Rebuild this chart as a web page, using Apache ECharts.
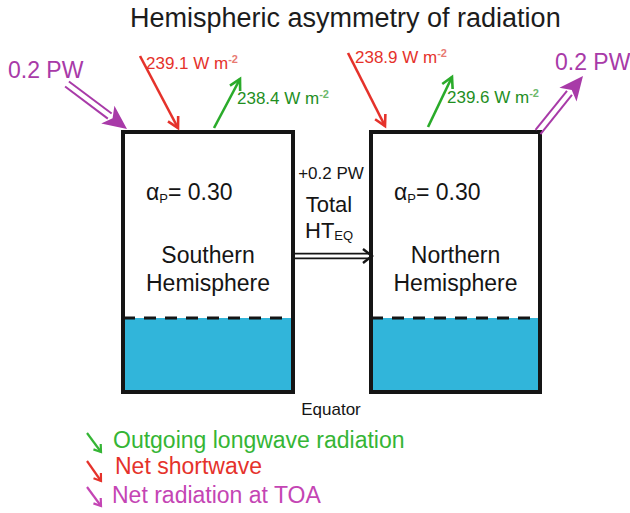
<!DOCTYPE html>
<html><head><meta charset="utf-8">
<script src="https://cdn.jsdelivr.net/npm/echarts@6/dist/echarts.min.js"></script>
<style>html,body{margin:0;padding:0;background:#fff}#c{width:630px;height:513px}</style>
</head><body><div id="c"></div><script>
// ---- values ----
const titleText = 'Hemispheric asymmetry of radiation';
const hemispheres = ['Southern\nHemisphere', 'Northern\nHemisphere'];
const albedo = [0.30, 0.30];
const netShortwave = [239.1, 238.9];      // W m-2
const outgoingLongwave = [238.4, 239.6];  // W m-2
const netToaPW = [0.2, 0.2];              // PW (into SH, out of NH)
const heatTransportPW = [0.2];            // PW across equator
const equatorLabel = ['Equator'];
const legendLabels = ['Outgoing longwave radiation', 'Net shortwave', 'Net radiation at TOA'];

// ---- layout (diagram space, same units as hidden axes) ----
const L = {
  boxX0: [123, 371], boxX1: [293, 540], boxTop: 132, boxBottom: 392, waterTop: 318,
  swFrom: [[140, 56], [348, 53]], swTo: [[178, 128], [385, 126]], swLab: [[146, 63], [355, 57]],
  lwFrom: [[214, 128], [428, 127]], lwTo: [[240, 79], [452, 77]], lwLab: [[237, 98], [447, 97]],
  toaFrom: [[67, 84], [538, 132]], toaTo: [[127, 129], [583, 76]], toaLab: [[8, 70], [555, 62]],
  htFrom: [294, 256], htTo: [372, 256], htLab: [[331, 173], [329, 204], [305, 230]],
  eqLab: [331, 409],
  legFrom: [[87, 433], [87, 461], [87, 487]], legTo: [[101, 452], [101, 481], [101, 506]],
  legLab: [[113, 440], [115, 466], [112, 495]],
  title: [130, 18]
};
const FONT = '"Liberation Sans", Arial, Helvetica, sans-serif';
const COL = {
  red: '#e5322b', redSup: '#e87a72', green: '#2aab2a', greenText: '#1f8f1f', greenSup: '#6cb86c',
  mag: '#a83aa8', magLeg: '#c445b4', greenLeg: '#35b535', water: '#31b5da', ink: '#151515'
};

function txt(p, text, opt) {
  return { type: 'text', x: p[0], y: p[1], silent: true,
    style: Object.assign({ text: text, fontFamily: FONT, fill: COL.ink, align: 'left', verticalAlign: 'middle' }, opt) };
}
function chevronArrow(p1, p2, color, lw, headLen, ang) {
  const a = Math.atan2(p2[1] - p1[1], p2[0] - p1[0]);
  const h1 = [p2[0] - headLen * Math.cos(a - ang), p2[1] - headLen * Math.sin(a - ang)];
  const h2 = [p2[0] - headLen * Math.cos(a + ang), p2[1] - headLen * Math.sin(a + ang)];
  return [
    { type: 'line', shape: { x1: p1[0], y1: p1[1], x2: p2[0], y2: p2[1] }, style: { stroke: color, lineWidth: lw, lineCap: 'butt' } },
    { type: 'polyline', shape: { points: [h1, p2, h2] }, style: { stroke: color, lineWidth: lw, fill: 'none', lineJoin: 'miter' } }
  ];
}
function doubleArrow(p1, p2, color, lw, gap, headLen, headHalf, filled) {
  const a = Math.atan2(p2[1] - p1[1], p2[0] - p1[0]);
  const ux = Math.cos(a), uy = Math.sin(a), nx = -uy, ny = ux;
  const endLen = Math.hypot(p2[0] - p1[0], p2[1] - p1[1]) - (filled ? headLen * 0.9 : lw * 0.6);
  const e = [p1[0] + ux * endLen, p1[1] + uy * endLen];
  const out = [];
  [-1, 1].forEach(s => {
    out.push({ type: 'line', shape: { x1: p1[0] + nx * gap * s, y1: p1[1] + ny * gap * s, x2: e[0] + nx * gap * s, y2: e[1] + ny * gap * s },
      style: { stroke: color, lineWidth: lw } });
  });
  const b = [p2[0] - ux * headLen, p2[1] - uy * headLen];
  const h1 = [b[0] + nx * headHalf, b[1] + ny * headHalf], h2 = [b[0] - nx * headHalf, b[1] - ny * headHalf];
  if (filled) {
    const notch = [p2[0] - ux * headLen * 0.75, p2[1] - uy * headLen * 0.75];
    out.push({ type: 'polygon', shape: { points: [h1, p2, h2, notch] }, style: { fill: color } });
  } else {
    out.push({ type: 'polyline', shape: { points: [h1, p2, h2] }, style: { stroke: color, lineWidth: lw + 0.8, fill: 'none' } });
  }
  return out;
}
const supRich = (fs, c1, c2) => ({
  a: { fontSize: fs, fill: c1, fontFamily: FONT, lineHeight: fs + 2 },
  s: { fontSize: Math.round(fs * 0.62), fill: c2, fontFamily: FONT, verticalAlign: 'top', lineHeight: Math.round(fs * 0.62), fontWeight: 'bold' }
});

const chart = echarts.init(document.getElementById('c'), null, { renderer: 'svg' });
const base = { type: 'custom', coordinateSystem: 'cartesian2d', clip: false, silent: true };

chart.setOption({
  animation: false,
  backgroundColor: '#ffffff',
  grid: { left: 0, right: 0, top: 0, bottom: 0 },
  xAxis: { type: 'value', min: 0, max: 630, show: false },
  yAxis: { type: 'value', min: 0, max: 513, inverse: true, show: false },
  series: [
    Object.assign({}, base, { name: 'title', data: [[0, 0]],
      renderItem: (p, api) => txt(api.coord(L.title), titleText, { fontSize: 27, fill: '#1c1c1c' }) }),
    Object.assign({}, base, { name: 'hemispheres', data: hemispheres.map((h, i) => [i, albedo[i]]),
      renderItem: (p, api) => {
        const i = p.dataIndex;
        const tl = api.coord([L.boxX0[i], L.boxTop]), br = api.coord([L.boxX1[i], L.boxBottom]);
        const wt = api.coord([L.boxX0[i], L.waterTop]);
        const cx = (tl[0] + br[0]) / 2;
        return { type: 'group', children: [
          { type: 'rect', shape: { x: tl[0], y: wt[1], width: br[0] - tl[0], height: br[1] - wt[1] }, style: { fill: COL.water } },
          { type: 'line', shape: { x1: tl[0], y1: wt[1], x2: br[0], y2: wt[1] }, style: { stroke: COL.ink, lineWidth: 3, lineDash: [12, 9] } },
          { type: 'rect', shape: { x: tl[0], y: tl[1], width: br[0] - tl[0], height: br[1] - tl[1] }, style: { fill: 'none', stroke: COL.ink, lineWidth: 4 } },
          txt(api.coord([L.boxX0[i] + 23, 192]), '{a|α}{s|P}{a|= ' + albedo[i].toFixed(2) + '}', {
            rich: { a: { fontSize: 23, fill: COL.ink, fontFamily: FONT, lineHeight: 25 },
                    s: { fontSize: 13, fill: COL.ink, fontFamily: FONT, verticalAlign: 'bottom', lineHeight: 13 } } }),
          txt([cx, api.coord([0, 269])[1]], hemispheres[i], { fontSize: 23, align: 'center', lineHeight: 28 })
        ] };
      } }),
    Object.assign({}, base, { name: 'Net shortwave', data: netShortwave.map((v, i) => [i, v]),
      renderItem: (p, api) => {
        const i = p.dataIndex, v = api.value(1);
        return { type: 'group', children: chevronArrow(api.coord(L.swFrom[i]), api.coord(L.swTo[i]), COL.red, 2.6, 12, 0.5).concat([
          txt(api.coord(L.swLab[i]), '{a|' + v.toFixed(1) + ' W m}{s|-2}', { rich: supRich(17, COL.red, COL.redSup) })]) };
      } }),
    Object.assign({}, base, { name: 'Outgoing longwave radiation', data: outgoingLongwave.map((v, i) => [i, v]),
      renderItem: (p, api) => {
        const i = p.dataIndex, v = api.value(1);
        return { type: 'group', children: chevronArrow(api.coord(L.lwFrom[i]), api.coord(L.lwTo[i]), COL.green, 2.6, 12, 0.5).concat([
          txt(api.coord(L.lwLab[i]), '{a|' + v.toFixed(1) + ' W m}{s|-2}', { rich: supRich(17, COL.greenText, COL.greenSup) })]) };
      } }),
    Object.assign({}, base, { name: 'Net radiation at TOA', data: netToaPW.map((v, i) => [i, v]),
      renderItem: (p, api) => {
        const i = p.dataIndex, v = api.value(1);
        return { type: 'group', children: doubleArrow(api.coord(L.toaFrom[i]), api.coord(L.toaTo[i]), COL.mag, 2, 3.2, 24, 11, true).concat([
          txt(api.coord(L.toaLab[i]), v.toFixed(1) + ' PW', { fontSize: 23, fill: COL.mag })]) };
      } }),
    Object.assign({}, base, { name: 'Total HT_EQ', data: heatTransportPW.map((v, i) => [i, v]),
      renderItem: (p, api) => {
        const v = api.value(1);
        return { type: 'group', children: doubleArrow(api.coord(L.htFrom), api.coord(L.htTo), COL.ink, 1.6, 2.4, 9, 7, false).concat([
          txt(api.coord(L.htLab[0]), '+' + v.toFixed(1) + ' PW', { fontSize: 17, align: 'center' }),
          txt(api.coord(L.htLab[1]), 'Total', { fontSize: 22, align: 'center' }),
          txt(api.coord(L.htLab[2]), '{a|HT}{s|EQ}', { rich: {
            a: { fontSize: 22, fill: COL.ink, fontFamily: FONT, lineHeight: 24 },
            s: { fontSize: 13, fill: COL.ink, fontFamily: FONT, verticalAlign: 'bottom', lineHeight: 12 } } })
        ]) };
      } }),
    Object.assign({}, base, { name: 'equator', data: [[0, 0]],
      renderItem: (p, api) => txt(api.coord(L.eqLab), equatorLabel[0], { fontSize: 17, align: 'center' }) }),
    Object.assign({}, base, { name: 'legend', data: legendLabels.map((t, i) => [i, 0]),
      renderItem: (p, api) => {
        const i = p.dataIndex;
        const cols = [COL.greenLeg, COL.red, COL.magLeg];
        return { type: 'group', children: chevronArrow(api.coord(L.legFrom[i]), api.coord(L.legTo[i]), cols[i], 2.2, 8, 0.6).concat([
          txt(api.coord(L.legLab[i]), legendLabels[i], { fontSize: 23, fill: cols[i] })]) };
      } })
  ]
});
</script></body></html>
